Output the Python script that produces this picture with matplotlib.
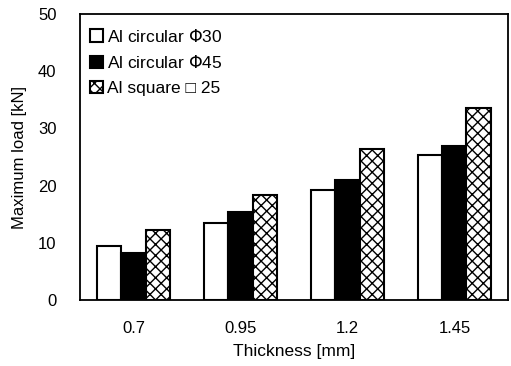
import numpy as np
import matplotlib
matplotlib.use('Agg')
import matplotlib.pyplot as plt

# Maximum load per wall thickness for the three tube sections
thickness = ['0.7', '0.95', '1.2', '1.45']
circ30 = [9.5, 13.4, 19.2, 25.3]
circ45 = [8.2, 15.4, 21.0, 27.0]
square25 = [12.2, 18.4, 26.4, 33.6]
labels = ['Al circular $\\mathit{\\Phi}$30', 'Al circular $\\mathit{\\Phi}$45', 'Al square \u25a1 25']

plt.rcParams['font.family'] = ['Liberation Sans', 'DejaVu Sans']
plt.rcParams['hatch.linewidth'] = 1.0

fig = plt.figure(figsize=(5.11, 3.66), dpi=100)
ax = fig.add_axes([0.1566, 0.1803, 0.8374, 0.7814])

x = np.arange(len(thickness))
w = 0.225
ax.bar(x - w, circ30, w, facecolor='white', edgecolor='black', linewidth=1.5, label=labels[0])
ax.bar(x, circ45, w, facecolor='black', edgecolor='black', linewidth=1.5, label=labels[1])
ax.bar(x + w, square25, w, facecolor='white', edgecolor='black', linewidth=1.5,
       hatch='xxx', label=labels[2])

ax.set_xlim(-0.5, 3.5)
ax.set_ylim(0, 50)
ax.set_yticks(range(0, 51, 10))
ax.set_xticks(x)
ax.set_xticklabels(thickness)
ax.tick_params(length=0, labelsize=12, pad=15)
ax.tick_params(axis='y', pad=17)
for s in ax.spines.values():
    s.set_linewidth(1.3)

ax.set_xlabel('Thickness [mm]', fontsize=12.5, labelpad=6)
ax.set_ylabel('Maximum load [kN]', fontsize=12, labelpad=8)

ax.legend(loc='upper left', frameon=False, fontsize=12.5, handlelength=0.75,
          handleheight=0.75, handletextpad=0.25, labelspacing=0.55,
          borderaxespad=0.3, bbox_to_anchor=(-0.005, 0.995))

plt.savefig('out.png', dpi=100)
